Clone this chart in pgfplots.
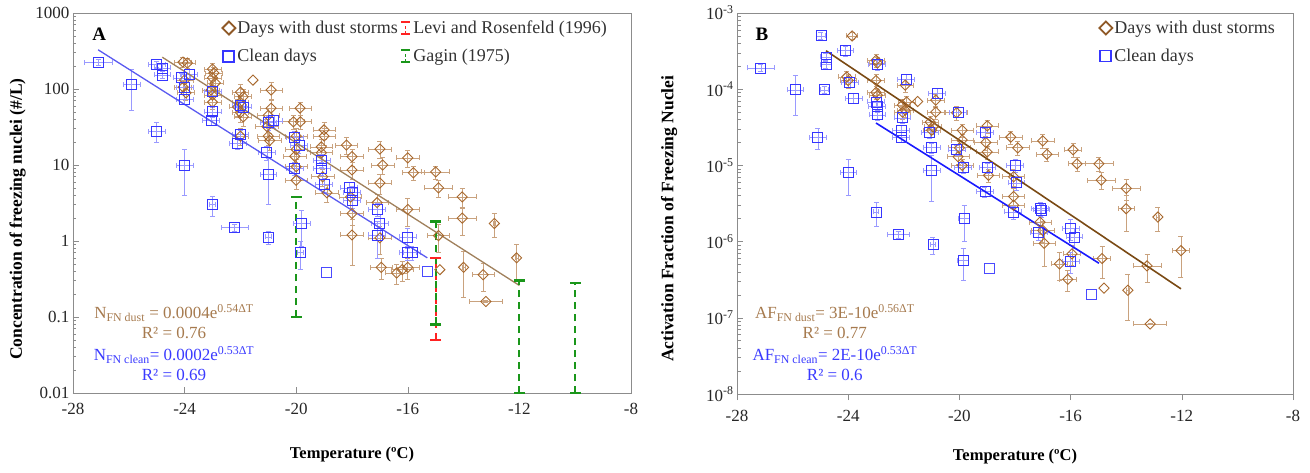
\documentclass[border=0pt]{standalone}
\usepackage{fontspec}
\setmainfont{Liberation Serif}
\usepackage{pgfplots}
\usepackage{pgfplotstable}
\pgfplotsset{compat=1.18}
\definecolor{dustc}{HTML}{A8692E}
\definecolor{dusterr}{HTML}{C9A27E}
\definecolor{cleanc}{HTML}{3636FF}
\definecolor{cleanbarec}{HTML}{4A4AFF}
\definecolor{cleanerr}{HTML}{9A9AFF}
\definecolor{dusttxt}{HTML}{A67A4E}
\definecolor{cleantxt}{HTML}{3A3AFF}
\definecolor{gagin}{HTML}{1A961A}
\definecolor{levi}{HTML}{FF2222}
\definecolor{axgray}{HTML}{8C8C8C}
\definecolor{dustlineA}{HTML}{A0805C}
\definecolor{cleanlineA}{HTML}{5A5AF0}
\definecolor{dustlineB}{HTML}{7A4A14}
\definecolor{cleanlineB}{HTML}{1A1AFF}

\pgfplotstableread{
x y ex ey
-24.06 226 0.3 0.15
-23.9 220 0.3 0.15
-23.0 183 0.3 0.2
-22.95 162 0.3 0.2
-23.0 140 0.3 0.2
-22.9 120 0.3 0.2
-23.05 97 0.3 0.2
-23.0 83 0.3 0.2
-23.0 67 0.3 0.2
-24.0 131 0.3 0.2
-24.05 106 0.3 0.2
-23.95 89 0.3 0.2
-22.0 91 0.3 0.25
-21.9 79 0.3 0.25
-22.0 67 0.3 0.25
-22.1 58 0.3 0.25
-22.0 49 0.3 0.25
-21.9 43 0.3 0.25
-22.0 24 0.3 0.25
-20.9 97 0.4 0.25
-20.9 56 0.4 0.25
-21.0 45 0.4 0.25
-21.05 32 0.4 0.25
-21.0 24 0.4 0.25
-20.95 21 0.4 0.25
-19.86 56 0.4 0.2
-20.1 37 0.4 0.2
-19.85 37 0.4 0.2
-20.0 24 0.4 0.25
-20.0 16 0.4 0.25
-20.05 13 0.4 0.25
-20.0 9.5 0.4 0.25
-20.0 6.3 0.4 0.25
-19.0 29 0.4 0.25
-19.0 24 0.4 0.25
-19.1 17.3 0.4 0.25
-19.1 14.5 0.4 0.25
-19.05 7.0 0.4 0.25
-18.9 4.3 0.4 0.25
-18.2 18.3 0.4 0.25
-18.0 12.9 0.4 0.25
-18.0 8.6 0.4 0.25
-18.05 3.8 0.4 0.3
-18.0 2.3 0.4 0.3
-18.0 1.2 0.4 0.6
-17.0 16.2 0.4 0.25
-16.9 10 0.4 0.25
-17.0 5.8 0.4 0.3
-17.1 3.2 0.4 0.3
-17.0 1.1 0.4 0.4
-16.95 0.45 0.4 0.3
-16.4 0.38 0.4 0.3
-16.0 12.4 0.4 0.25
-15.8 7.9 0.4 0.2
-15.0 8.1 0.5 0.2
-14.9 5.0 0.5 0.25
-14.05 3.8 0.5 0.3
-14.05 2.0 0.5 0.4
-12.9 1.7 0.05 0.35
-16.0 2.6 0.4 0.4
-14.9 1.18 0.4 0.4
-14.0 0.45 0.05 0.6
-13.3 0.36 0.4 0.4
-13.2 0.16 0.6 0.02
-12.1 0.6 0.05 0.5
-16.0 0.45 0.4 0.3
-16.2 0.42 0.4 0.3
}\dustA

\pgfplotstableread{
x y
-21.55 131
-14.85 0.42
}\dustAbare

\pgfplotstableread{
x y ex ey
-27.1 226 0.5 0.1
-25.9 116 0.3 0.55
-25.0 213 0.3 0.1
-24.8 189 0.3 0.1
-24.8 153 0.3 0.1
-25.0 28 0.3 0.3
-24.1 140 0.3 0.15
-23.84 157 0.3 0.15
-24.0 106 0.3 0.15
-24.0 73 0.3 0.15
-24.0 10 0.3 0.6
-23.0 93 0.3 0.15
-23.0 50 0.3 0.15
-23.05 39 0.3 0.15
-23.0 3.0 0.1 0.3
-22.2 1.5 0.5 0.1
-22.0 60 0.3 0.15
-21.9 58 0.3 0.15
-22.0 25 0.3 0.15
-22.1 19 0.3 0.15
-21.0 36 0.3 0.2
-20.8 38 0.3 0.2
-21.05 14.5 0.3 0.2
-21.0 7.6 0.3 0.6
-21.0 1.13 0.1 0.2
-20.05 23 0.3 0.2
-19.9 18 0.3 0.2
-20.05 9.1 0.3 0.2
-19.08 11.6 0.3 0.2
-19.08 9.1 0.3 0.2
-19.0 5.5 0.3 0.2
-18.1 5.0 0.3 0.2
-18.0 4.4 0.3 0.2
-18.0 3.4 0.3 0.2
-17.1 2.6 0.3 0.2
-17.0 1.7 0.3 0.3
-17.1 1.2 0.3 0.5
-16.0 1.13 0.3 0.3
-16.0 0.70 0.3 0.2
-15.85 0.70 0.3 0.2
-19.8 1.7 0.3 0.5
-19.86 0.70 0.1 0.4
}\cleanA

\pgfplotstableread{
x y
-18.9 0.39
-15.3 0.40
}\cleanAbare

\pgfplotstableread{
x y ex ey
-23.86 5.0e-4 0.2 0.1
-24.0 1.3e-4 0.3 0.2
-24.05 1.45e-4 0.3 0.2
-23.0 2.4e-4 0.3 0.2
-22.95 2.2e-4 0.3 0.2
-23.0 1.3e-4 0.3 0.2
-23.0 9.1e-5 0.3 0.2
-22.95 8.3e-5 0.3 0.2
-21.95 1.13e-4 0.3 0.2
-21.9 6.8e-5 0.3 0.2
-22.05 6.2e-5 0.3 0.2
-21.95 5.3e-5 0.3 0.2
-22.05 5.0e-5 0.3 0.2
-20.85 7.2e-5 0.3 0.2
-20.85 5.0e-5 0.3 0.2
-21.05 3.7e-5 0.3 0.2
-20.95 3.2e-5 0.3 0.2
-21.0 2.9e-5 0.3 0.2
-20.1 4.9e-5 0.4 0.2
-19.9 2.9e-5 0.4 0.2
-19.9 2.15e-5 0.4 0.2
-20.0 1.7e-5 0.4 0.2
-20.05 1.3e-5 0.4 0.2
-19.9 1.0e-5 0.4 0.2
-19.0 3.3e-5 0.4 0.2
-19.05 2.0e-5 0.4 0.2
-19.0 1.5e-5 0.4 0.2
-18.95 7.4e-6 0.4 0.2
-18.15 2.35e-5 0.4 0.2
-17.9 1.7e-5 0.4 0.2
-18.05 7.1e-6 0.4 0.25
-18.05 3.9e-6 0.4 0.3
-18.05 3.0e-6 0.4 0.3
-17.0 2.1e-5 0.4 0.2
-16.85 1.4e-5 0.4 0.2
-17.1 1.8e-6 0.4 0.3
-17.0 1.4e-6 0.4 0.3
-16.95 9.5e-7 0.4 0.5
-16.4 5.1e-7 0.3 0.4
-16.1 3.2e-7 0.3 0.3
-15.91 1.6e-5 0.3 0.2
-15.77 1.05e-5 0.3 0.2
-14.98 1.05e-5 0.5 0.2
-14.9 6.4e-6 0.5 0.25
-14.0 5.0e-6 0.5 0.3
-14.0 2.7e-6 0.3 0.5
-12.86 2.1e-6 0.05 0.35
-12.03 7.6e-7 0.3 0.55
-13.25 4.8e-7 0.5 0.4
-14.87 6.0e-7 0.3 0.45
-13.94 2.3e-7 0.05 0.6
-13.14 8.3e-8 0.6 0.02
-15.95 6.9e-7 0.3 0.3
}\dustB

\pgfplotstableread{
x y
-21.5 6.9e-5
-14.8 2.45e-7
}\dustBbare

\pgfplotstableread{
x y ex ey
-27.14 1.9e-4 0.5 0.1
-25.9 9.8e-5 0.3 0.53
-24.98 5.0e-4 0.15 0.1
-24.8 2.65e-4 0.2 0.1
-24.8 2.1e-4 0.2 0.1
-24.87 9.8e-5 0.15 0.1
-25.09 2.35e-5 0.3 0.3
-24.1 3.2e-4 0.3 0.15
-23.94 1.24e-4 0.3 0.15
-23.8 7.6e-5 0.3 0.15
-24.0 8.1e-6 0.3 0.5
-22.96 2.1e-4 0.3 0.15
-23.0 6.8e-5 0.3 0.15
-22.96 5.9e-5 0.3 0.15
-22.95 4.6e-5 0.3 0.15
-23.0 2.45e-6 0.1 0.35
-22.2 1.23e-6 0.4 0.1
-21.92 1.36e-4 0.3 0.15
-22.05 4.2e-5 0.3 0.15
-22.1 2.9e-5 0.3 0.15
-22.1 2.35e-5 0.3 0.15
-20.8 8.9e-5 0.3 0.15
-21.06 2.7e-5 0.3 0.15
-21.0 1.7e-5 0.3 0.15
-21.0 8.5e-6 0.3 0.6
-20.95 9.1e-7 0.1 0.25
-20.05 5.0e-5 0.3 0.15
-20.1 1.6e-5 0.3 0.15
-19.87 9.3e-6 0.3 0.15
-19.83 2.0e-6 0.2 0.5
-19.87 5.6e-7 0.2 0.45
-19.08 2.7e-5 0.3 0.15
-19.0 9.3e-6 0.3 0.15
-19.08 4.5e-6 0.3 0.15
-18.0 1.0e-5 0.3 0.2
-17.95 5.9e-6 0.3 0.2
-18.07 2.45e-6 0.3 0.2
-17.1 2.7e-6 0.3 0.2
-17.05 2.6e-6 0.3 0.2
-17.15 1.3e-6 0.3 0.2
-16.0 1.5e-6 0.3 0.3
-15.87 1.15e-6 0.3 0.3
-16.0 5.5e-7 0.3 0.3
}\cleanB

\pgfplotstableread{
x y
-18.93 4.4e-7
-15.27 2.0e-7
}\cleanBbare

\pgfplotsset{
  panel/.style={
    scale only axis, clip=false,
    xmin=-28, xmax=-8,
    xtick={-28,-24,-20,-16,-12,-8},
    xticklabels={-28,-24,-20,-16,-12,-8},
    tick pos=left,
    axis line style={axgray, line width=0.8pt},
    tick style={axgray, line width=0.6pt},
    major tick length=6pt, minor tick length=3.5pt,
    tick label style={font=\fontsize{17}{20}\selectfont, text=black!85},
    xticklabel style={yshift=-7pt},
    xlabel style={at={(axis description cs:0.5,-0.163)}, anchor=center, font=\bfseries\fontsize{16.5}{19}\selectfont},
    ylabel style={font=\bfseries\fontsize{17.5}{20}\selectfont},
    legend style={draw=none, fill=none, font=\fontsize{18}{21}\selectfont, text=black!80, anchor=north west, row sep=10pt},
    legend cell align=left,
  },
  dustpts/.style={only marks, mark=square, mark size=3.6pt,
    mark options={rotate=45, dustc, line width=0.9pt},
    error bars/x dir=both, error bars/x explicit,
    error bars/y dir=both, error bars/y explicit relative,
    error bars/error bar style={dusterr, line width=0.7pt},
    error bars/error mark options={rotate=90, dusterr, mark size=2.5pt, line width=0.7pt}},
  cleanpts/.style={only marks, mark=square, mark size=5pt,
    mark options={cleanc, line width=0.9pt},
    error bars/x dir=both, error bars/x explicit,
    error bars/y dir=both, error bars/y explicit relative,
    error bars/error bar style={cleanerr, line width=0.7pt},
    error bars/error mark options={rotate=90, cleanerr, mark size=2.5pt, line width=0.7pt}},
  dustbare/.style={only marks, mark=square, mark size=3.6pt, mark options={rotate=45, draw=dustc, fill=none, line width=0.9pt}},
  cleanbare/.style={only marks, mark=square, mark size=5pt, mark options={draw=cleanbarec, fill=none, line width=0.8pt}},
  refbar/.style={line width=2pt, dash pattern=on 7pt off 5pt, mark=-, mark size=5.5pt, mark options={solid, line width=2.6pt}},
}

\begin{document}
\begin{tikzpicture}
\useasboundingbox (0,0) rectangle (1310pt,472pt);

% ---------------- Panel A ----------------
\begin{axis}[panel, ymode=log,
  at={(73pt,79pt)}, anchor=south west,
  width=558pt, height=380pt,
  ymin=0.01, ymax=1000,
  ytick={0.01,0.1,1,10,100,1000},
  yticklabels={0.01,0.1,1,10,100,1000},
  xlabel={Temperature (ºC)},
  ylabel={Concentration of freezing nuclei (\#/L)},
  ylabel style={at={(axis description cs:-0.099,0.458)}, anchor=center},
  legend columns=2,
  legend style={at={(0.262,0.99)}},
]
\addlegendimage{only marks, mark=square, mark size=4.6pt, mark options={rotate=45, dustc!85!black, line width=1.8pt}}
\addlegendentry{Days with dust storms}
\addlegendimage{legend image code/.code={
  \draw[levi, line width=1.6pt, dash pattern=on 3pt off 2.5pt] (0.3cm,-6pt) -- (0.3cm,6pt);
  \draw[levi, line width=2.4pt] (0.3cm-4.5pt,6pt) -- (0.3cm+4.5pt,6pt);
  \draw[levi, line width=2.4pt] (0.3cm-4.5pt,-6pt) -- (0.3cm+4.5pt,-6pt);}}
\addlegendentry{Levi and Rosenfeld (1996)}
\addlegendimage{only marks, mark=square, mark size=5.5pt, mark options={cleanc, line width=1.8pt}}
\addlegendentry{Clean days}
\addlegendimage{legend image code/.code={
  \draw[gagin, line width=1.6pt, dash pattern=on 3pt off 2.5pt] (0.3cm,-6pt) -- (0.3cm,6pt);
  \draw[gagin, line width=2.4pt] (0.3cm-4.5pt,6pt) -- (0.3cm+4.5pt,6pt);
  \draw[gagin, line width=2.4pt] (0.3cm-4.5pt,-6pt) -- (0.3cm+4.5pt,-6pt);}}
\addlegendentry{Gagin (1975)}

\addplot[dustpts, forget plot] table[x=x, y=y, x error=ex, y error=ey] {\dustA};
\addplot[dustbare, forget plot] table[x=x, y=y] {\dustAbare};
\addplot[cleanpts, forget plot] table[x=x, y=y, x error=ex, y error=ey] {\cleanA};
\addplot[cleanbare, forget plot] table[x=x, y=y] {\cleanAbare};
\addplot[dustlineA, line width=1.3pt, forget plot] coordinates {(-24.8,262) (-12,0.26)};
\addplot[cleanlineA, line width=1.3pt, forget plot] coordinates {(-27.1,328) (-15.3,0.6)};
\addplot[levi, refbar, forget plot] coordinates {(-15,0.05) (-15,0.6)};
\addplot[gagin, refbar, forget plot] coordinates {(-20,0.1) (-20,3.8)};
\addplot[gagin, refbar, forget plot] coordinates {(-15,0.08) (-15,1.8)};
\addplot[gagin, refbar, forget plot] coordinates {(-10,0.01) (-10,0.28)};
\addplot[gagin, refbar, forget plot] coordinates {(-12,0.01) (-12,0.3)};

\node[font=\bfseries\fontsize{19}{22}\selectfont] at (rel axis cs:0.047,0.945) {A};
\node[dusttxt, font=\fontsize{17}{20}\selectfont] at (rel axis cs:0.181,0.21) {N\textsubscript{FN dust} = 0.0004e\textsuperscript{0.54ΔT}};
\node[dusttxt, font=\fontsize{17}{20}\selectfont] at (rel axis cs:0.181,0.158) {R² = 0.76};
\node[cleantxt, font=\fontsize{17}{20}\selectfont] at (rel axis cs:0.181,0.10) {N\textsubscript{FN clean}= 0.0002e\textsuperscript{0.53ΔT}};
\node[cleantxt, font=\fontsize{17}{20}\selectfont] at (rel axis cs:0.181,0.047) {R² = 0.69};
\end{axis}

% ---------------- Panel B ----------------
\begin{axis}[panel, ymode=log,
  at={(737pt,78pt)}, anchor=south west,
  width=556pt, height=381pt,
  ymin=1e-8, ymax=1e-3,
  ytick={1e-8,1e-7,1e-6,1e-5,1e-4,1e-3},
  yticklabels={10\textsuperscript{-8},10\textsuperscript{-7},10\textsuperscript{-6},10\textsuperscript{-5},10\textsuperscript{-4},10\textsuperscript{-3}},
  ytick align=inside,
  xtick align=outside,
  xlabel={Temperature (ºC)},
  ylabel={Activation Fraction of Freezing Nuclei},
  ylabel style={at={(axis description cs:-0.122,0.46)}, anchor=center},
  legend style={at={(0.646,0.99)}},
]
\addlegendimage{only marks, mark=square, mark size=4.6pt, mark options={rotate=45, dustc!85!black, line width=1.8pt}}
\addlegendentry{Days with dust storms}
\addlegendimage{only marks, mark=square, mark size=5.5pt, mark options={cleanc, line width=1.8pt}}
\addlegendentry{Clean days}

\addplot[dustpts, forget plot] table[x=x, y=y, x error=ex, y error=ey] {\dustB};
\addplot[dustbare, forget plot] table[x=x, y=y] {\dustBbare};
\addplot[cleanpts, forget plot] table[x=x, y=y, x error=ex, y error=ey] {\cleanB};
\addplot[cleanbare, forget plot] table[x=x, y=y] {\cleanBbare};
\addplot[dustlineB, line width=1.6pt, forget plot] coordinates {(-24.8,3.2e-4) (-12.03,2.4e-7)};
\addplot[cleanlineB, line width=1.6pt, forget plot] coordinates {(-23.0,3.6e-5) (-14.98,5.2e-7)};

\node[font=\bfseries\fontsize{19}{22}\selectfont] at (rel axis cs:0.045,0.945) {B};
\node[dusttxt, font=\fontsize{17}{20}\selectfont] at (rel axis cs:0.176,0.213) {AF\textsubscript{FN dust}= 3E-10e\textsuperscript{0.56ΔT}};
\node[dusttxt, font=\fontsize{17}{20}\selectfont] at (rel axis cs:0.176,0.16) {R² = 0.77};
\node[cleantxt, font=\fontsize{17}{20}\selectfont] at (rel axis cs:0.176,0.102) {AF\textsubscript{FN clean}= 2E-10e\textsuperscript{0.53ΔT}};
\node[cleantxt, font=\fontsize{17}{20}\selectfont] at (rel axis cs:0.176,0.05) {R² = 0.6};
\end{axis}
\end{tikzpicture}
\end{document}
